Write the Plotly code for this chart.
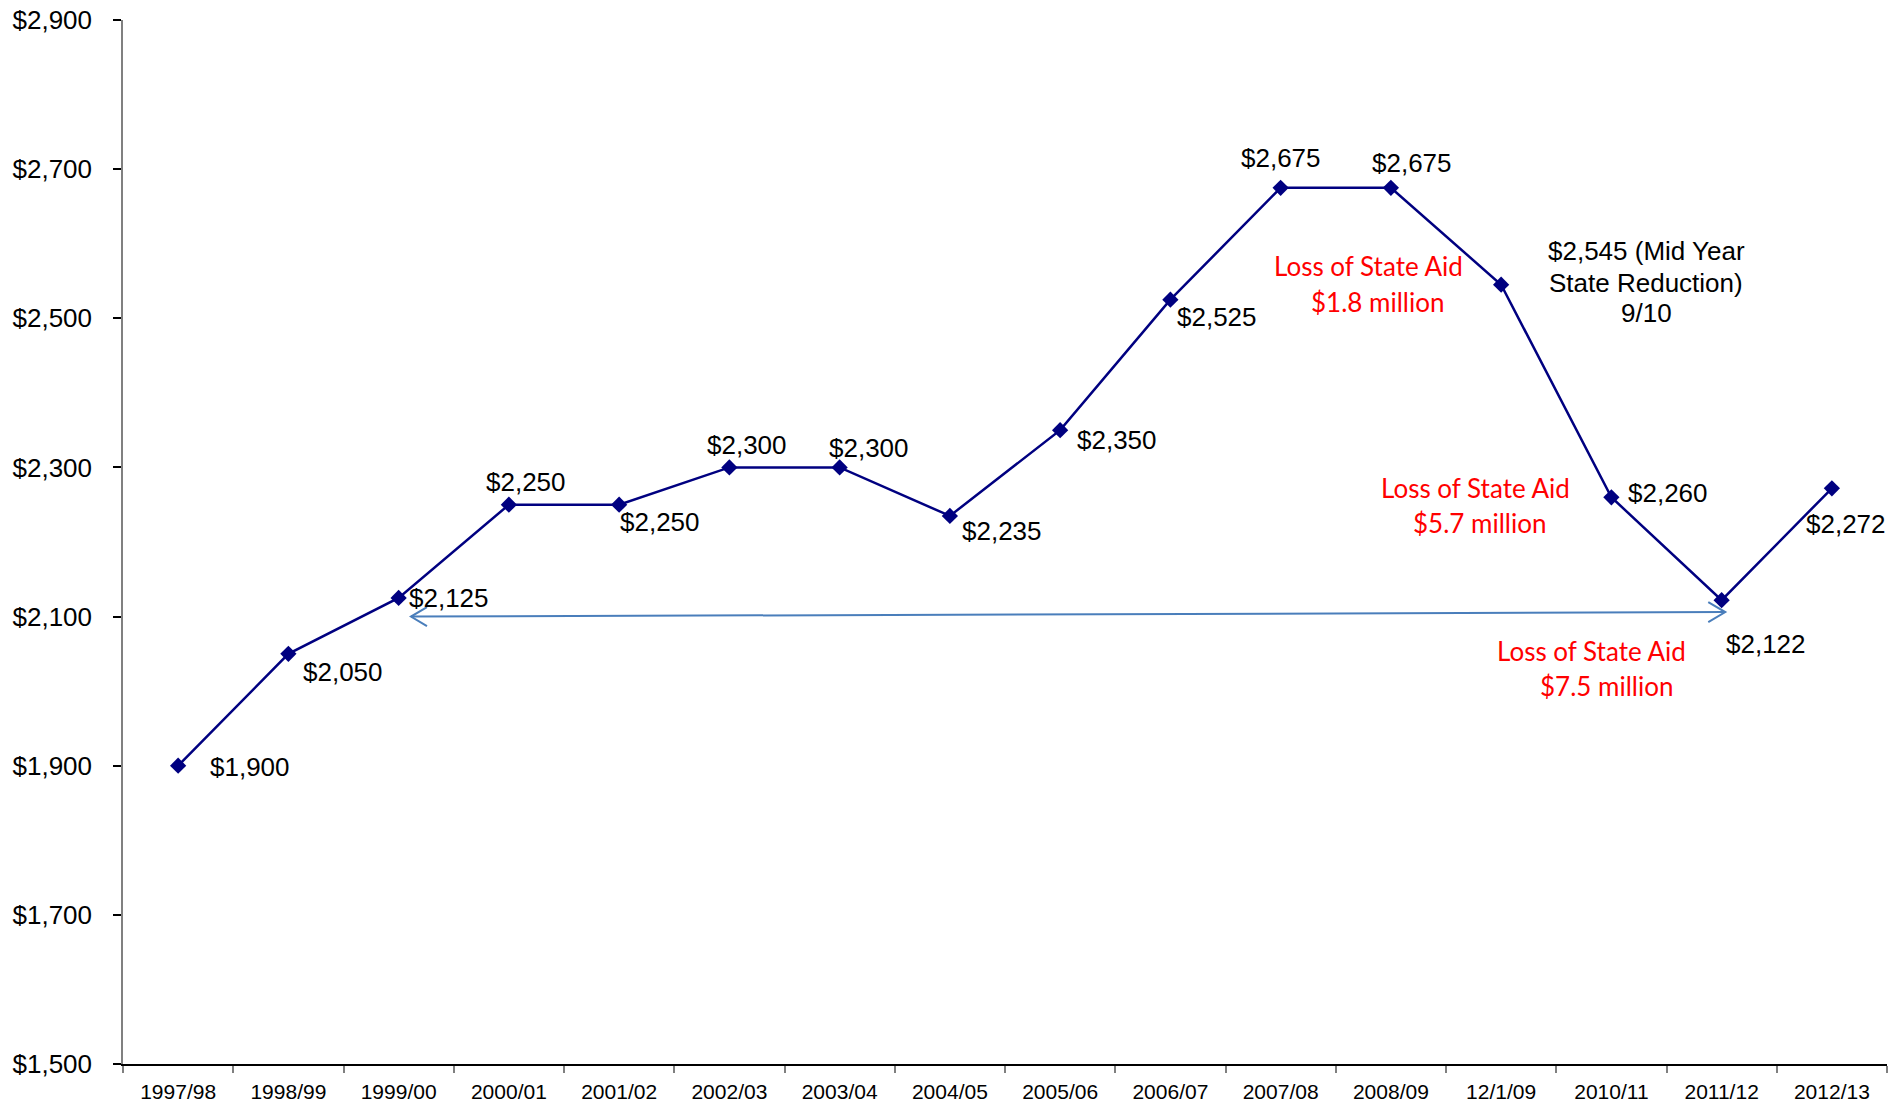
import plotly.graph_objects as go

# School years and per-pupil state aid amounts
years = ["1997/98", "1998/99", "1999/00", "2000/01", "2001/02", "2002/03",
         "2003/04", "2004/05", "2005/06", "2006/07", "2007/08", "2008/09",
         "12/1/09", "2010/11", "2011/12", "2012/13"]
aid = [1900, 2050, 2125, 2250, 2250, 2300, 2300, 2235, 2350, 2525,
       2675, 2675, 2545, 2260, 2122, 2272]

# Label placement per point: (xanchor, xshift px, yshift px)
label_pos = [
    ("left", 30, -1), ("left", 13, -18), ("left", 8, 0), ("center", 17, 23),
    ("left", -1, -17), ("center", 18, 22), ("center", 29, 19), ("left", 10, -15),
    ("left", 15, -10), ("left", 5, -17), ("center", 0, 30), ("center", 21, 25),
    None, ("left", 15, 4), ("left", 2, -44), ("left", -28, -36),
]

# Mid-year reduction note beside the 12/1/09 point
midyear_lines = ["$2,545 (Mid Year", "State Reduction)", "9/10"]
midyear_shifts = [34, 2, -28]

# State aid loss callouts: (text, x position on category index, y value)
loss_lines = [
    ("Loss of State Aid", 10.795, 2570), ("$1.8 million", 10.877, 2522),
    ("Loss of State Aid", 11.767, 2272), ("$5.7 million", 11.803, 2226),
    ("Loss of State Aid", 12.819, 2054), ("$7.5 million", 12.955, 2007),
]

# Span arrow between 1999/00 and 2011/12 levels
span_start = (2.112, 2100)
span_end = (14.033, 2106)

NAVY = "#000080"
ARROW = "#4A7EBB"
FONT = "Liberation Sans, Arial, sans-serif"

fig = go.Figure()
fig.add_trace(go.Scatter(
    x=years, y=aid, mode="lines+markers",
    line=dict(color=NAVY, width=2.5),
    marker=dict(symbol="diamond", size=12.5, color=NAVY),
    hoverinfo="skip", showlegend=False,
))

annotations = []
for yr, val, pos in zip(years, aid, label_pos):
    if pos is None:
        continue
    anchor, dx, dy = pos
    annotations.append(dict(
        x=yr, y=val, xref="x", yref="y", text=f"${val:,}", showarrow=False,
        xanchor=anchor, yanchor="middle", xshift=dx, yshift=dy,
        font=dict(family=FONT, size=26, color="#000000"),
    ))

for line, dy in zip(midyear_lines, midyear_shifts):
    annotations.append(dict(
        x=years[12], y=aid[12], xref="x", yref="y", text=line, showarrow=False,
        xanchor="center", yanchor="middle", xshift=145, yshift=dy,
        font=dict(family=FONT, size=26, color="#000000"),
    ))

for text, xi, yv in loss_lines:
    annotations.append(dict(
        x=xi, y=yv, xref="x", yref="y", text=text, showarrow=False,
        xanchor="center", yanchor="middle",
        font=dict(family="Lato, sans-serif", size=26, color="#FF0000"),
    ))

shapes = [
    dict(type="line", xref="x", yref="y",
         x0=span_start[0], y0=span_start[1], x1=span_end[0], y1=span_end[1],
         line=dict(color=ARROW, width=2)),
    dict(type="path", xref="x", yref="y", xsizemode="pixel", ysizemode="pixel",
         xanchor=span_start[0], yanchor=span_start[1],
         path="M 16,9.5 L 0,0 L 16,-9.5", line=dict(color=ARROW, width=2)),
    dict(type="path", xref="x", yref="y", xsizemode="pixel", ysizemode="pixel",
         xanchor=span_end[0], yanchor=span_end[1],
         path="M -17,10 L 0,0 L -17,-10", line=dict(color=ARROW, width=2)),
]

fig.update_layout(
    width=1904, height=1107,
    margin=dict(l=123, r=17, t=20, b=43, autoexpand=False),
    paper_bgcolor="white", plot_bgcolor="white",
    annotations=annotations, shapes=shapes,
    font=dict(family=FONT, color="#000000"),
)
fig.update_xaxes(
    type="category", categoryorder="array", categoryarray=years,
    range=[-0.5, 15.5], tickson="boundaries", automargin=False,
    showline=True, linecolor="#000000", linewidth=1.5,
    ticks="outside", ticklen=7, tickcolor="#808080", tickwidth=1.5,
    showgrid=False, zeroline=False, ticklabelstandoff=8,
    tickfont=dict(family=FONT, size=21, color="#000000"),
)
fig.update_yaxes(
    range=[1500, 2900], dtick=200, tick0=1500, automargin=False,
    tickprefix="$", tickformat=",",
    showline=True, linecolor="#808080", linewidth=1.5,
    ticks="outside", ticklen=8, tickcolor="#000000", tickwidth=1.5,
    showgrid=False, zeroline=False, ticklabelstandoff=16,
    tickfont=dict(family=FONT, size=26, color="#000000"),
)

fig.write_html("out.html")
